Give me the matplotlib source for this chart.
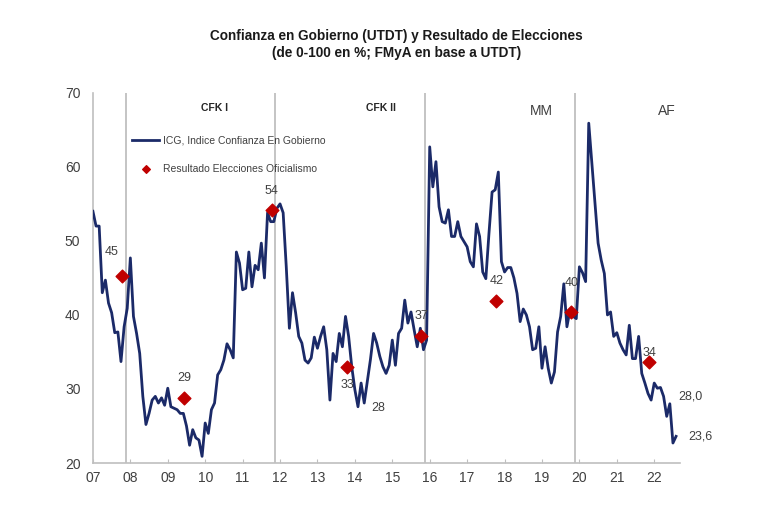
import numpy as np
import matplotlib
matplotlib.use("Agg")
import matplotlib.pyplot as plt
import matplotlib.transforms as mtransforms

plt.rcParams['font.family'] = ['Liberation Sans', 'DejaVu Sans']

## ICG mensual (% de 0-100), enero 2007 a agosto 2022
icg_2007 = [54.0, 52.0, 52.0, 43.0, 44.7, 41.6, 40.3, 37.6, 37.7, 33.7, 38.4, 40.9]
icg_2008 = [47.7, 39.8, 37.5, 34.8, 29.0, 25.2, 26.7, 28.5, 29.0, 28.1, 28.8, 27.8]
icg_2009 = [30.1, 27.6, 27.4, 27.2, 26.7, 26.7, 25.0, 22.4, 24.5, 23.4, 23.1, 20.9]
icg_2010 = [25.4, 24.0, 27.2, 28.1, 31.9, 32.6, 33.9, 36.1, 35.3, 34.2, 48.5, 47.0]
icg_2011 = [43.4, 43.6, 48.5, 43.8, 46.7, 46.1, 49.7, 45.0, 53.8, 52.6, 52.6, 54.4]
icg_2012 = [55.0, 53.8, 46.5, 38.2, 43.0, 40.3, 37.1, 36.2, 33.9, 33.5, 34.2, 37.0]
icg_2013 = [35.5, 37.1, 38.4, 35.3, 28.5, 34.8, 33.7, 37.5, 35.7, 39.8, 37.1, 33.0]
icg_2014 = [29.9, 27.6, 30.8, 28.1, 31.0, 34.0, 37.5, 36.2, 34.4, 33.0, 32.1, 33.2]
icg_2015 = [36.6, 33.2, 37.5, 38.2, 42.0, 38.9, 40.4, 38.0, 35.7, 38.2, 35.3, 36.6]
icg_2016 = [62.7, 57.3, 60.7, 54.6, 52.6, 52.4, 54.2, 50.6, 50.6, 52.6, 50.6, 49.9]
icg_2017 = [49.2, 47.2, 46.5, 52.3, 50.6, 45.8, 44.9, 51.0, 56.6, 56.9, 59.3, 47.2]
icg_2018 = [45.8, 46.4, 46.4, 45.0, 42.9, 39.1, 40.8, 40.0, 38.4, 35.3, 35.5, 38.4]
icg_2019 = [32.8, 35.7, 32.8, 30.8, 32.3, 37.7, 39.8, 44.2, 38.4, 40.7, 39.8, 39.5]
icg_2020 = [46.5, 45.7, 44.5, 65.9, 60.5, 55.1, 49.7, 47.4, 45.6, 40.0, 40.4, 37.1]
icg_2021 = [37.6, 36.2, 35.3, 34.6, 38.6, 34.1, 34.1, 37.1, 32.1, 30.8, 29.4, 28.5]
icg_2022 = [30.8, 30.1, 30.2, 29.0, 26.3, 28.0, 22.7, 23.6]

icg = np.array(icg_2007 + icg_2008 + icg_2009 + icg_2010 + icg_2011 + icg_2012
               + icg_2013 + icg_2014 + icg_2015 + icg_2016 + icg_2017 + icg_2018
               + icg_2019 + icg_2020 + icg_2021 + icg_2022)
fechas = 2007 + np.arange(len(icg)) / 12

## Resultado elecciones oficialismo
fecha_elec = [2007.78, 2009.44, 2011.78, 2013.79, 2015.78, 2017.78, 2019.77, 2021.85]
voto_elec = [45.3, 28.8, 54.2, 32.9, 37.2, 41.9, 40.4, 33.7]
etiq_elec = ['45', '29', '54', '33', '37', '42', '40', '34']
offs_elec = [(-7.5, 17), (0, 14), (0, 13.5), (0, -12.5), (0, 14.5), (0, 14), (1, 20.5), (0.7, 6.5)]

## Cambios de gobierno
cambio_gob = [2007.875, 2011.86, 2015.88, 2019.88]
gobiernos = ['CFK I', 'CFK II', 'MM', 'AF']
gob_x = [2010.26, 2014.69, 2018.98, 2022.35]
gob_bold = [True, True, False, False]

anios = list(range(2007, 2023))
etiq_anios = [f'{a % 100:02d}' for a in anios]

azul = '#1B2A68'
rojo = '#C00000'
gris = '#BFBFBF'
texto = '#404040'

fig = plt.figure(figsize=(7.68, 5.12), dpi=100)
ax = fig.add_axes([0.121, 0.0957, 0.764, 0.723])

for x in cambio_gob:
    ax.axvline(x, color=gris, lw=1.3, zorder=1)

ax.plot(fechas, icg, color=azul, lw=2.0, zorder=3,
        label='ICG, Indice Confianza En Gobierno')
ax.scatter(fecha_elec, voto_elec, marker='D', s=42, color=rojo, zorder=4,
           label='Resultado Elecciones Oficialismo')

for x, y, t, o in zip(fecha_elec, voto_elec, etiq_elec, offs_elec):
    ax.annotate(t, (x, y), xytext=o, textcoords='offset points',
                ha='center', va='center', fontsize=9, color=texto, zorder=5)

## minimo de 2014 y ultimos valores
i14 = anios.index(2014) * 12
i_min = i14 + int(np.argmin(icg[i14:i14 + 12]))
ax.annotate(f'{icg[i_min]:.0f}', (fechas[i_min], icg[i_min]), xytext=(14.7, -0.7),
            textcoords='offset points', ha='center', va='center', fontsize=9, color=texto)
ax.annotate(f'{icg[-3]:.1f}'.replace('.', ','), (fechas[-3], icg[-3]), xytext=(15, 5),
            textcoords='offset points', ha='center', va='center', fontsize=9, color=texto)
ax.annotate(f'{icg[-1]:.1f}'.replace('.', ','), (fechas[-1], icg[-1]), xytext=(17.5, 0),
            textcoords='offset points', ha='center', va='center', fontsize=9, color=texto)

trans = mtransforms.blended_transform_factory(ax.transData, ax.transAxes)
for x, g, b in zip(gob_x, gobiernos, gob_bold):
    if b:
        ax.text(x, 0.958, g, transform=trans, ha='center', va='center',
                fontsize=7.5, fontweight='bold', color='#262626')
    else:
        ax.text(x, 0.952, g, transform=trans, ha='center', va='center',
                fontsize=10, color=texto)

ax.set_xlim(2007, 2022.68)
ax.set_ylim(20, 70)
ax.set_xticks(anios)
ax.set_xticklabels(etiq_anios)
ax.set_yticks(range(20, 71, 10))
ax.tick_params(axis='x', direction='in', length=3, color=gris, labelsize=10,
               labelcolor=texto, pad=6)
ax.tick_params(axis='y', length=0, labelsize=10, labelcolor=texto, pad=9)
for s in ['top', 'right']:
    ax.spines[s].set_visible(False)
for s in ['left', 'bottom']:
    ax.spines[s].set_color(gris)
    ax.spines[s].set_linewidth(1.2)

leg = ax.legend(loc='upper left', bbox_to_anchor=(0.06, 0.895), frameon=False,
                fontsize=7.5, handlelength=2.6, handletextpad=0.3, labelspacing=1.7,
                borderaxespad=0, scatterpoints=1, markerscale=0.6)
for t in leg.get_texts():
    t.set_color(texto)

fig.text(0.516, 0.913,
         'Confianza en Gobierno (UTDT) y Resultado de Elecciones\n(de 0-100 en %; FMyA en base a UTDT)',
         ha='center', va='center', fontsize=9.8, fontweight='bold', color='#1a1a1a',
         linespacing=1.2)

fig.savefig('out.png', dpi=100)
